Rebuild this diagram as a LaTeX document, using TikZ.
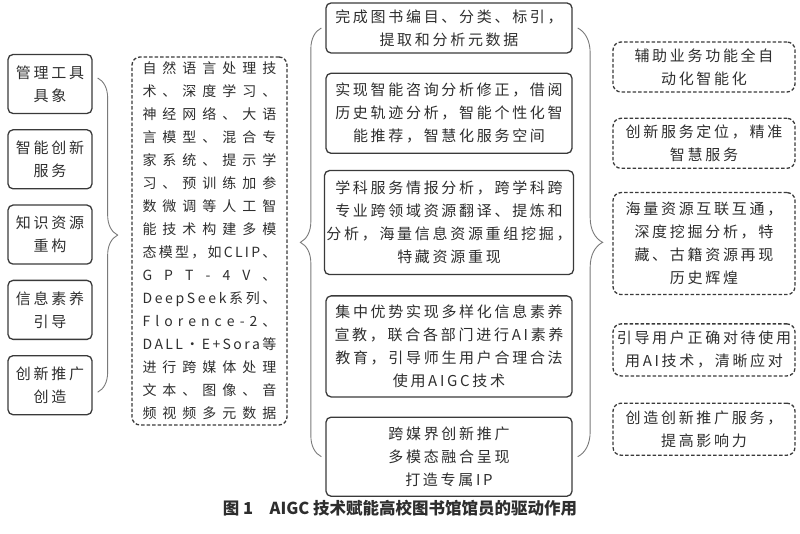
\documentclass[tikz,border=0pt]{standalone}
\usepackage{fontspec}
\newfontfamily\cjk{Noto Sans CJK SC}
\newfontfamily\cjksp[LetterSpace=18]{Noto Sans CJK SC}
\usetikzlibrary{positioning,calc,decorations.pathreplacing}
\definecolor{boxline}{HTML}{3A3A3A}
\definecolor{braceline}{HTML}{7A7A7A}
\definecolor{txtgray}{HTML}{2E2E2E}
\ExplSyntaxOn
\NewDocumentCommand\spl{mm}{\hbox~to~#1{\tl_map_inline:nn{#2}{##1\hfil}\unskip}}
\ExplSyntaxOff
\tikzset{
  drvbox/.style={draw=boxline, line width=1.3pt, rounded corners=5pt, align=center, inner sep=2pt, text=txtgray, font=\cjksp\fontsize{15}{23}\selectfont},
  drvdash/.style={drvbox, dash pattern=on 3.5pt off 2pt, rounded corners=8pt},
  drvbrace/.style={draw=braceline, line width=0.9pt, decorate},
}

\begin{document}
\begin{tikzpicture}[
  x=1pt, y=-1pt,
  lbox/.style={drvbox, minimum width=84pt, minimum height=59pt},
  cbox/.style={drvbox, minimum width=246pt},
  rbox/.style={drvdash, minimum width=182pt},
]
  \useasboundingbox (0,0) rectangle (800,534);
  % left column
  \node[lbox] (L1) at (50,84) {管理工具\\具象};
  \node[lbox, below=15pt of L1] (L2) {智能创新\\服务};
  \node[lbox, below=15pt of L2] (L3) {知识资源\\重构};
  \node[lbox, below=15pt of L3] (L4) {信息素养\\引导};
  \node[lbox, below=15pt of L4] (L5) {创新推广\\创造};
  % techniques
  \node[drvdash, minimum width=155pt, minimum height=368pt, align=left,
        font=\cjk\fontsize{14}{23}\selectfont] (T) at (209.5,241) {%
    \spl{134pt}{自然语言处理技}\\ \spl{134pt}{术、深度学习、}\\
    \spl{134pt}{神经网络、大语}\\ \spl{134pt}{言模型、混合专}\\
    \spl{134pt}{家系统、提示学}\\ \spl{134pt}{习、预训练加参}\\
    \spl{134pt}{数微调等人工智}\\ \spl{134pt}{能技术构建多模}\\
    \spl{134pt}{态模型，如CLIP、}\\ \spl{134pt}{GPT-4V、}\\
    \spl{134pt}{DeepSeek系列、}\\ \spl{134pt}{Florence-2、}\\
    \spl{134pt}{DALL·E+Sora等}\\ \spl{134pt}{进行跨媒体处理}\\
    \spl{134pt}{文本、图像、音}\\ \spl{134pt}{频视频多元数据}};
  % centre column
  \node[cbox, minimum height=50pt] (C1) at (449,28) {完成图书编目、分类、标引，\\提取和分析元数据};
  \node[cbox, minimum height=80pt, below=19pt of C1] (C2) {实现智能咨询分析修正，借阅\\历史轨迹分析，智能个性化智\\能推荐，智慧化服务空间};
  \node[cbox, minimum height=104pt, below=16pt of C2] (C3) {学科服务情报分析，跨学科跨\\专业跨领域资源翻译、提炼和\\分析，海量信息资源重组挖掘，\\特藏资源重现};
  \node[cbox, minimum height=101pt, below=20pt of C3] (C4) {集中优势实现多样化信息素养\\{\cjk\spl{229pt}{宣教，联合各部门进行AI素养}}\\教育，引导师生用户合理合法\\使用AIGC技术};
  \node[cbox, minimum height=79pt, below=19pt of C4] (C5) {跨媒界创新推广\\多模态融合呈现\\打造专属IP};
  % right column
  \node[rbox, minimum height=50pt] (R1) at (704,67) {辅助业务功能全自\\动化智能化};
  \node[rbox, minimum height=50pt, below=25pt of R1] (R2) {创新服务定位，精准\\智慧服务};
  \node[rbox, minimum height=102pt, below=23pt of R2] (R3) {海量资源互联互通，\\深度挖掘分析，特\\藏、古籍资源再现\\历史辉煌};
  \node[rbox, minimum height=52pt, below=28pt of R3] (R4) {引导用户正确对待使用\\用AI技术，清晰应对};
  \node[rbox, minimum height=52pt, below=26pt of R4] (R5) {创造创新推广服务，\\提高影响力};
  % braces
  \coordinate (b1s) at ($(L1.east)+(5,-6)$);
  \coordinate (b1e) at ($(L5.east)+(5,7)$);
  \coordinate (b2s) at ($(C5.west)+(-4,0)$);
  \coordinate (b2e) at ($(C1.west)+(-4,0)$);
  \coordinate (b3s) at ($(C1.east)+(5,0)$);
  \coordinate (b3e) at ($(C5.east)+(5,0)$);
  \draw[drvbrace, decoration={brace, amplitude=20pt}] (b1s) -- (b1e);
  \draw[drvbrace, decoration={brace, amplitude=21pt}] (b2s) -- (b2e);
  \draw[drvbrace, decoration={brace, amplitude=25pt}] (b3s) -- (b3e);
  % caption
  \node[font=\cjk\bfseries\fontsize{16.5}{18}\selectfont, text=txtgray] (cap) at (400,508) {图 1\quad AIGC 技术赋能高校图书馆馆员的驱动作用};
\end{tikzpicture}
\end{document}
